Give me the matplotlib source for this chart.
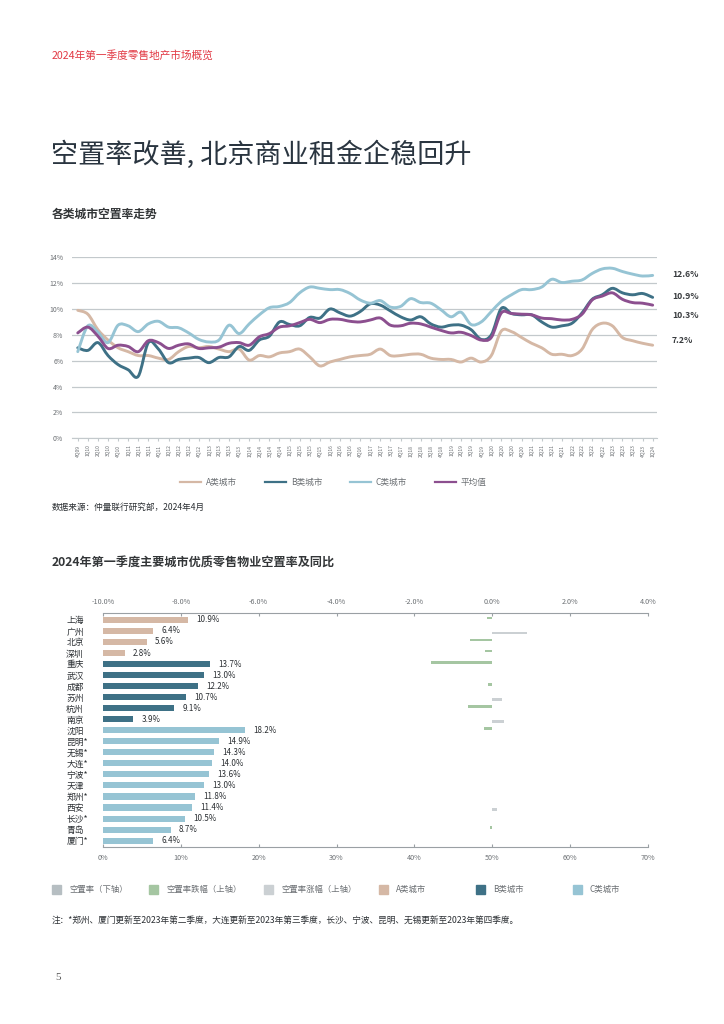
import matplotlib
matplotlib.use('Agg')
import matplotlib.pyplot as plt
import numpy as np
from matplotlib.patches import Rectangle, PathPatch
from matplotlib.path import Path
from matplotlib.lines import Line2D

plt.rcParams['font.family'] = ['Noto Sans CJK SC', 'DejaVu Sans']

# ---------------- data: vacancy trend by city tier ----------------
quarters = ['4Q09'] + [f'{q}Q{y:02d}' for y in range(10, 24) for q in range(1, 5)] + ['1Q24']

tier_a = [9.9, 9.6, 8.4, 7.6, 7.0, 6.7, 6.4, 6.4, 6.2, 6.1, 6.7, 7.1, 7.0, 7.1, 6.9,
          6.7, 6.9, 6.05, 6.4, 6.3, 6.6, 6.7, 6.9, 6.3, 5.6, 5.9, 6.1, 6.3, 6.4, 6.5,
          6.9, 6.4, 6.4, 6.5, 6.5, 6.2, 6.1, 6.1, 5.9, 6.2, 5.9, 6.4, 8.3, 8.25, 7.8,
          7.35, 7.0, 6.5, 6.5, 6.4, 6.9, 8.4, 8.9, 8.7, 7.8, 7.55, 7.35, 7.2]
tier_b = [7.0, 6.8, 7.4, 6.4, 5.7, 5.3, 4.8, 7.4, 6.9, 5.85, 6.1, 6.2, 6.25, 5.85, 6.25,
          6.3, 7.1, 6.8, 7.6, 7.9, 9.0, 8.8, 8.7, 9.35, 9.3, 10.0, 9.7, 9.45, 9.8, 10.4,
          10.3, 9.85, 9.4, 9.15, 9.4, 8.85, 8.6, 8.75, 8.75, 8.4, 7.65, 8.0, 10.05, 9.65, 9.55,
          9.55, 9.0, 8.6, 8.7, 8.9, 9.7, 10.75, 11.1, 11.6, 11.25, 11.1, 11.2, 10.9]
tier_c = [6.7, 8.7, 8.2, 7.4, 8.75, 8.7, 8.25, 8.85, 9.05, 8.6, 8.55, 8.15, 7.65, 7.45, 7.6,
          8.75, 8.1, 8.85, 9.55, 10.1, 10.2, 10.5, 11.25, 11.7, 11.6, 11.5, 11.5, 11.2, 10.7, 10.45,
          10.65, 10.15, 10.2, 10.8, 10.5, 10.45, 9.95, 9.4, 9.75, 8.8, 9.0, 9.8, 10.6, 11.1, 11.5,
          11.5, 11.7, 12.3, 12.05, 12.15, 12.25, 12.75, 13.1, 13.15, 12.9, 12.7, 12.55, 12.6]
average = [8.15, 8.6, 7.9, 6.95, 7.2, 7.1, 6.7, 7.55, 7.4, 6.95, 7.2, 7.3, 6.95, 7.0, 7.05,
           7.35, 7.4, 7.2, 7.85, 8.1, 8.6, 8.7, 8.95, 9.2, 8.95, 9.2, 9.2, 9.05, 9.0, 9.15,
           9.3, 8.75, 8.7, 8.9, 8.85, 8.6, 8.35, 8.15, 8.2, 7.95, 7.6, 7.8, 9.7, 9.65, 9.6,
           9.55, 9.3, 9.25, 9.15, 9.2, 9.6, 10.7, 11.0, 11.25, 10.75, 10.5, 10.45, 10.3]
end_labels = ['12.6%', '10.9%', '10.3%', '7.2%']

# ---------------- data: Q1 2024 vacancy by city ----------------
cities = ['上海', '广州', '北京', '深圳', '重庆', '武汉', '成都', '苏州', '杭州', '南京', '沈阳',
          '昆明*', '无锡*', '大连*', '宁波*', '天津', '郑州*', '西安', '长沙*', '青岛', '厦门*']
tiers = ['A'] * 4 + ['B'] * 6 + ['C'] * 11
vacancy = [10.9, 6.4, 5.6, 2.8, 13.7, 13.0, 12.2, 10.7, 9.1, 3.9, 18.2,
           14.9, 14.3, 14.0, 13.6, 13.0, 11.8, 11.4, 10.5, 8.7, 6.4]
# year-on-year change in percentage points (top axis)
yoy_change = [-0.13, 0.9, -0.56, -0.19, -1.57, -0.02, -0.11, 0.24, -0.63, 0.31, -0.2,
              0.0, 0.0, 0.0, 0.0, -0.01, 0.0, 0.12, 0.0, -0.06, 0.0]

col_a = '#d5b8a5'
col_b = '#3e7186'
col_c = '#96c4d4'
col_avg = '#8c4f8f'
col_down = '#a5c6a2'
col_up = '#cbd0d3'
col_vac = '#b6bec2'
grid_col = '#c3c9cc'
txt_col = '#2b2f33'
tick_col = '#6b6f73'
tier_cols = {'A': col_a, 'B': col_b, 'C': col_c}

W, H = 724, 1024
fig = plt.figure(figsize=(W / 100, H / 100), dpi=100)


def fy(y):
    return 1 - y / H


def smooth_path(xs, ys, k=1 / 6):
    # Excel-like smoothed line: Catmull-Rom segments as cubic Beziers
    pts = np.column_stack([xs, ys]).astype(float)
    verts = [pts[0]]
    codes = [Path.MOVETO]
    n = len(pts)
    for i in range(n - 1):
        p0 = pts[max(i - 1, 0)]
        p1 = pts[i]
        p2 = pts[i + 1]
        p3 = pts[min(i + 2, n - 1)]
        verts += [p1 + (p2 - p0) * k, p2 - (p3 - p1) * k, p2]
        codes += [Path.CURVE4] * 3
    return Path(verts, codes)


# ---------------- page texts ----------------
fig.text(52 / W, fy(55), '2024年第一季度零售地产市场概览', color='#e23a45', fontsize=7.7,
         va='center', ha='left')
fig.text(51 / W, fy(155), '空置率改善, 北京商业租金企稳回升', color='#2a3540', fontsize=19.5,
         va='center', ha='left', fontweight='light')
fig.text(52 / W, fy(214), '各类城市空置率走势', color='#333638', fontsize=8.5, va='center',
         ha='left', fontweight='bold')
fig.text(52 / W, fy(507), '数据来源：仲量联行研究部，2024年4月', color=txt_col, fontsize=6.2,
         va='center', ha='left')
fig.text(52 / W, fy(563), '2024年第一季度主要城市优质零售物业空置率及同比', color='#333638',
         fontsize=8.7, va='center', ha='left', fontweight='bold')
fig.text(52 / W, fy(920), '注：*郑州、厦门更新至2023年第二季度，大连更新至2023年第三季度，'
         '长沙、宁波、昆明、无锡更新至2023年第四季度。', color=txt_col, fontsize=6.25,
         va='center', ha='left')
fig.text(55 / W, fy(977), '5', color='#555555', fontsize=8, va='center', ha='left',
         family='Liberation Serif')

# ---------------- line chart ----------------
ax = fig.add_axes([71.7 / W, fy(438.3), 585 / W, 181 / H])
x = np.arange(len(quarters))
series = [(tier_a, col_a, 'A类城市'), (tier_b, col_b, 'B类城市'),
          (tier_c, col_c, 'C类城市'), (average, col_avg, '平均值')]
for vals, c, lab in series:
    ax.add_patch(PathPatch(smooth_path(x, vals), facecolor='none', edgecolor=c, lw=2.1,
                           joinstyle='round', capstyle='round', zorder=3))
ax.set_xlim(-0.6, len(quarters) - 0.6)
ax.set_ylim(0, 14)
ax.set_yticks(range(0, 15, 2))
ax.set_yticklabels([f'{v}%' for v in range(0, 15, 2)])
ax.yaxis.grid(True, color=grid_col, lw=0.9)
ax.set_axisbelow(True)
for s in ['top', 'right', 'left']:
    ax.spines[s].set_visible(False)
ax.spines['bottom'].set_color(grid_col)
ax.tick_params(axis='y', length=0, labelsize=5, labelcolor=tick_col, pad=6)
ax.set_xticks(x)
ax.set_xticklabels(quarters, rotation=90, fontsize=3.6, color=tick_col)
ax.tick_params(axis='x', length=2.5, color=grid_col, pad=2)

label_y = [12.65, 11.0, 9.5, 7.6]
for lab, yv in zip(end_labels, label_y):
    ax.text(len(quarters) - 0.6 + 1.5, yv, lab, fontsize=6.2, fontweight='bold',
            color='#3a3d40', va='center', ha='left', clip_on=False)

# legend of line chart
leg_x = [180, 265, 350, 435]
for (vals, c, lab), lx in zip(series, leg_x):
    fig.add_artist(Line2D([lx / W, (lx + 21) / W], [fy(482), fy(482)], color=c, lw=1.6))
    fig.text((lx + 26) / W, fy(482), lab, fontsize=6.2, color=tick_col, va='center',
             ha='left')

# ---------------- bar chart ----------------
bx = fig.add_axes([103 / W, fy(846.7), 545 / W, (846.7 - 613.3) / H])
rows = np.arange(len(cities))
bx.barh(rows, vacancy, height=0.55, color=[tier_cols[t] for t in tiers], zorder=2)
bx.set_xlim(0, 70)
bx.set_ylim(len(cities) - 0.45, -0.6)
bx.set_xticks(range(0, 71, 10))
bx.set_xticklabels([f'{v}%' for v in range(0, 71, 10)])
bx.set_yticks(rows)
bx.set_yticklabels(cities)
for lbl in bx.get_yticklabels():
    lbl.set_horizontalalignment('left')
bx.tick_params(axis='y', length=0, pad=26.5, labelsize=6.3, labelcolor=txt_col)
bx.tick_params(axis='x', direction='in', length=2.5, color='#9aa0a4', labelsize=5.2,
               labelcolor=tick_col, pad=5)
for s in ['top', 'right', 'left']:
    bx.spines[s].set_visible(False)
bx.spines['bottom'].set_color('#9aa0a4')
for r, v in zip(rows, vacancy):
    bx.annotate(f'{v:.1f}%', (v, r), xytext=(6, 0), textcoords='offset points',
                fontsize=5.8, color=txt_col, va='center', ha='left')

tx = bx.twiny()
chg = np.array(yoy_change)
down = np.where(chg < 0, chg, 0)
up = np.where(chg > 0, chg, 0)
tx.barh(rows - 0.18, down, height=0.26, color=col_down, zorder=2)
tx.barh(rows + 0.18, up, height=0.26, color=col_up, zorder=2)
tx.set_xlim(-10, 4)
tx.set_ylim(len(cities) - 0.45, -0.6)
tx.set_xticks(range(-10, 5, 2))
tx.set_xticklabels([f'{v:.1f}%' for v in range(-10, 5, 2)])
tx.tick_params(axis='x', direction='in', length=2.5, color='#9aa0a4', labelsize=5.2,
               labelcolor=tick_col, pad=5)
for s in ['bottom', 'right', 'left']:
    tx.spines[s].set_visible(False)
tx.spines['top'].set_color('#9aa0a4')

# legend of bar chart
leg_labels = ['空置率（下轴）', '空置率跌幅（上轴）', '空置率涨幅（上轴）', 'A类城市', 'B类城市', 'C类城市']
leg_cols = [col_vac, col_down, col_up, col_a, col_b, col_c]
leg_pos = [52, 149, 264, 379, 476, 573]
for lab, c, lx in zip(leg_labels, leg_cols, leg_pos):
    fig.add_artist(Rectangle((lx / W, fy(894)), 9 / W, 9 / H, color=c,
                             transform=fig.transFigure))
    fig.text((lx + 17) / W, fy(889.5), lab, fontsize=6, color=tick_col, va='center',
             ha='left')

fig.savefig('out.png', dpi=100)
